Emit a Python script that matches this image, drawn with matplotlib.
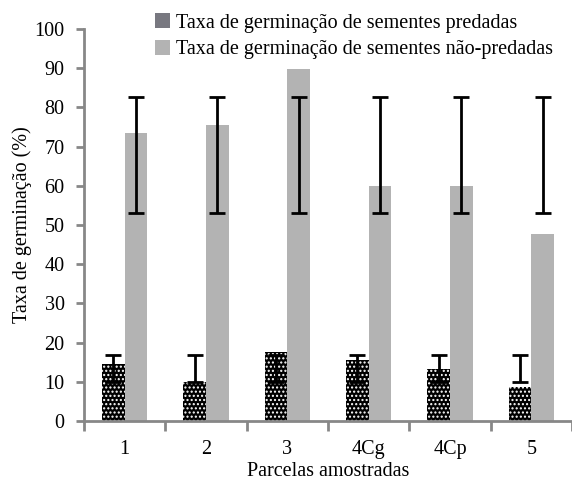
import matplotlib
matplotlib.use('Agg')
import matplotlib.pyplot as plt
from matplotlib.patches import Patch
import numpy as np

categories = ['1', '2', '3', '4Cg', '4Cp', '5']
predadas = [14.5, 10.0, 17.7, 15.6, 13.2, 8.7]
nao_predadas = [73.4, 75.5, 89.8, 60.0, 60.0, 47.7]
# error bars drawn as low/high limits
pred_err_lo = [10.0, 10.0, 10.0, 10.0, 10.0, 10.0]
pred_err_hi = [16.8, 16.8, 16.8, 16.8, 16.8, 16.8]
nao_err_lo = [53.0, 53.0, 53.0, 53.0, 53.0, 53.0]
nao_err_hi = [82.6, 82.6, 82.6, 82.6, 82.6, 82.6]

plt.rcParams['font.family'] = ['Liberation Serif', 'DejaVu Serif']
plt.rcParams['hatch.linewidth'] = 1.0
fsize = 14.5

figure = plt.figure(figsize=(5.72, 4.8), dpi=100)
axis = figure.add_axes([84 / 572, 59 / 480, 488 / 572, 392 / 480])

x = np.arange(len(categories))
width = 0.28
grey = '#b3b3b3'

axis.bar(x - width / 2, predadas, width, color='black', edgecolor='white',
         linewidth=0, hatch='....', zorder=2)
axis.bar(x + width / 2, nao_predadas, width, color=grey, linewidth=0, zorder=2)

def errbars(xs, lo, hi):
    mid = (np.array(lo) + np.array(hi)) / 2
    half = (np.array(hi) - np.array(lo)) / 2
    axis.errorbar(xs, mid, yerr=half, fmt='none', ecolor='black',
                  elinewidth=2, capsize=6, capthick=2, zorder=3)

errbars(x - width / 2, pred_err_lo, pred_err_hi)
errbars(x + width / 2, nao_err_lo, nao_err_hi)

axis.set_xlim(-0.5, len(categories) - 0.5)
axis.set_ylim(0, 100)
axis.set_yticks(range(0, 101, 10))
axis.set_xticks(x)
axis.set_xticklabels(categories)
axis.set_xticks(np.arange(-0.5, len(categories)), minor=True)
axis.tick_params(axis='x', which='major', length=0, labelsize=fsize, pad=14)
axis.tick_params(axis='x', which='minor', length=7, width=2, color='#878787')
axis.tick_params(axis='y', length=6, width=2, color='#878787', labelsize=fsize, pad=8)

for side in ['top', 'right']:
    axis.spines[side].set_visible(False)
for side in ['left', 'bottom']:
    axis.spines[side].set_color('#878787')
    axis.spines[side].set_linewidth(2)

axis.set_xlabel('Parcelas amostradas', fontsize=fsize, labelpad=1.5)
axis.set_ylabel('Taxa de germinação (%)', fontsize=fsize, labelpad=2)

handles = [Patch(facecolor='#787880', label='Taxa de germinação de sementes predadas'),
           Patch(facecolor=grey, label='Taxa de germinação de sementes não-predadas')]
figure.legend(handles=handles, loc='upper left', bbox_to_anchor=(137 / 572, 1.01),
              frameon=False, fontsize=fsize, handlelength=0.75, handleheight=0.75,
              handletextpad=0.3, labelspacing=0.35)

figure.savefig('out.png', dpi=100)
